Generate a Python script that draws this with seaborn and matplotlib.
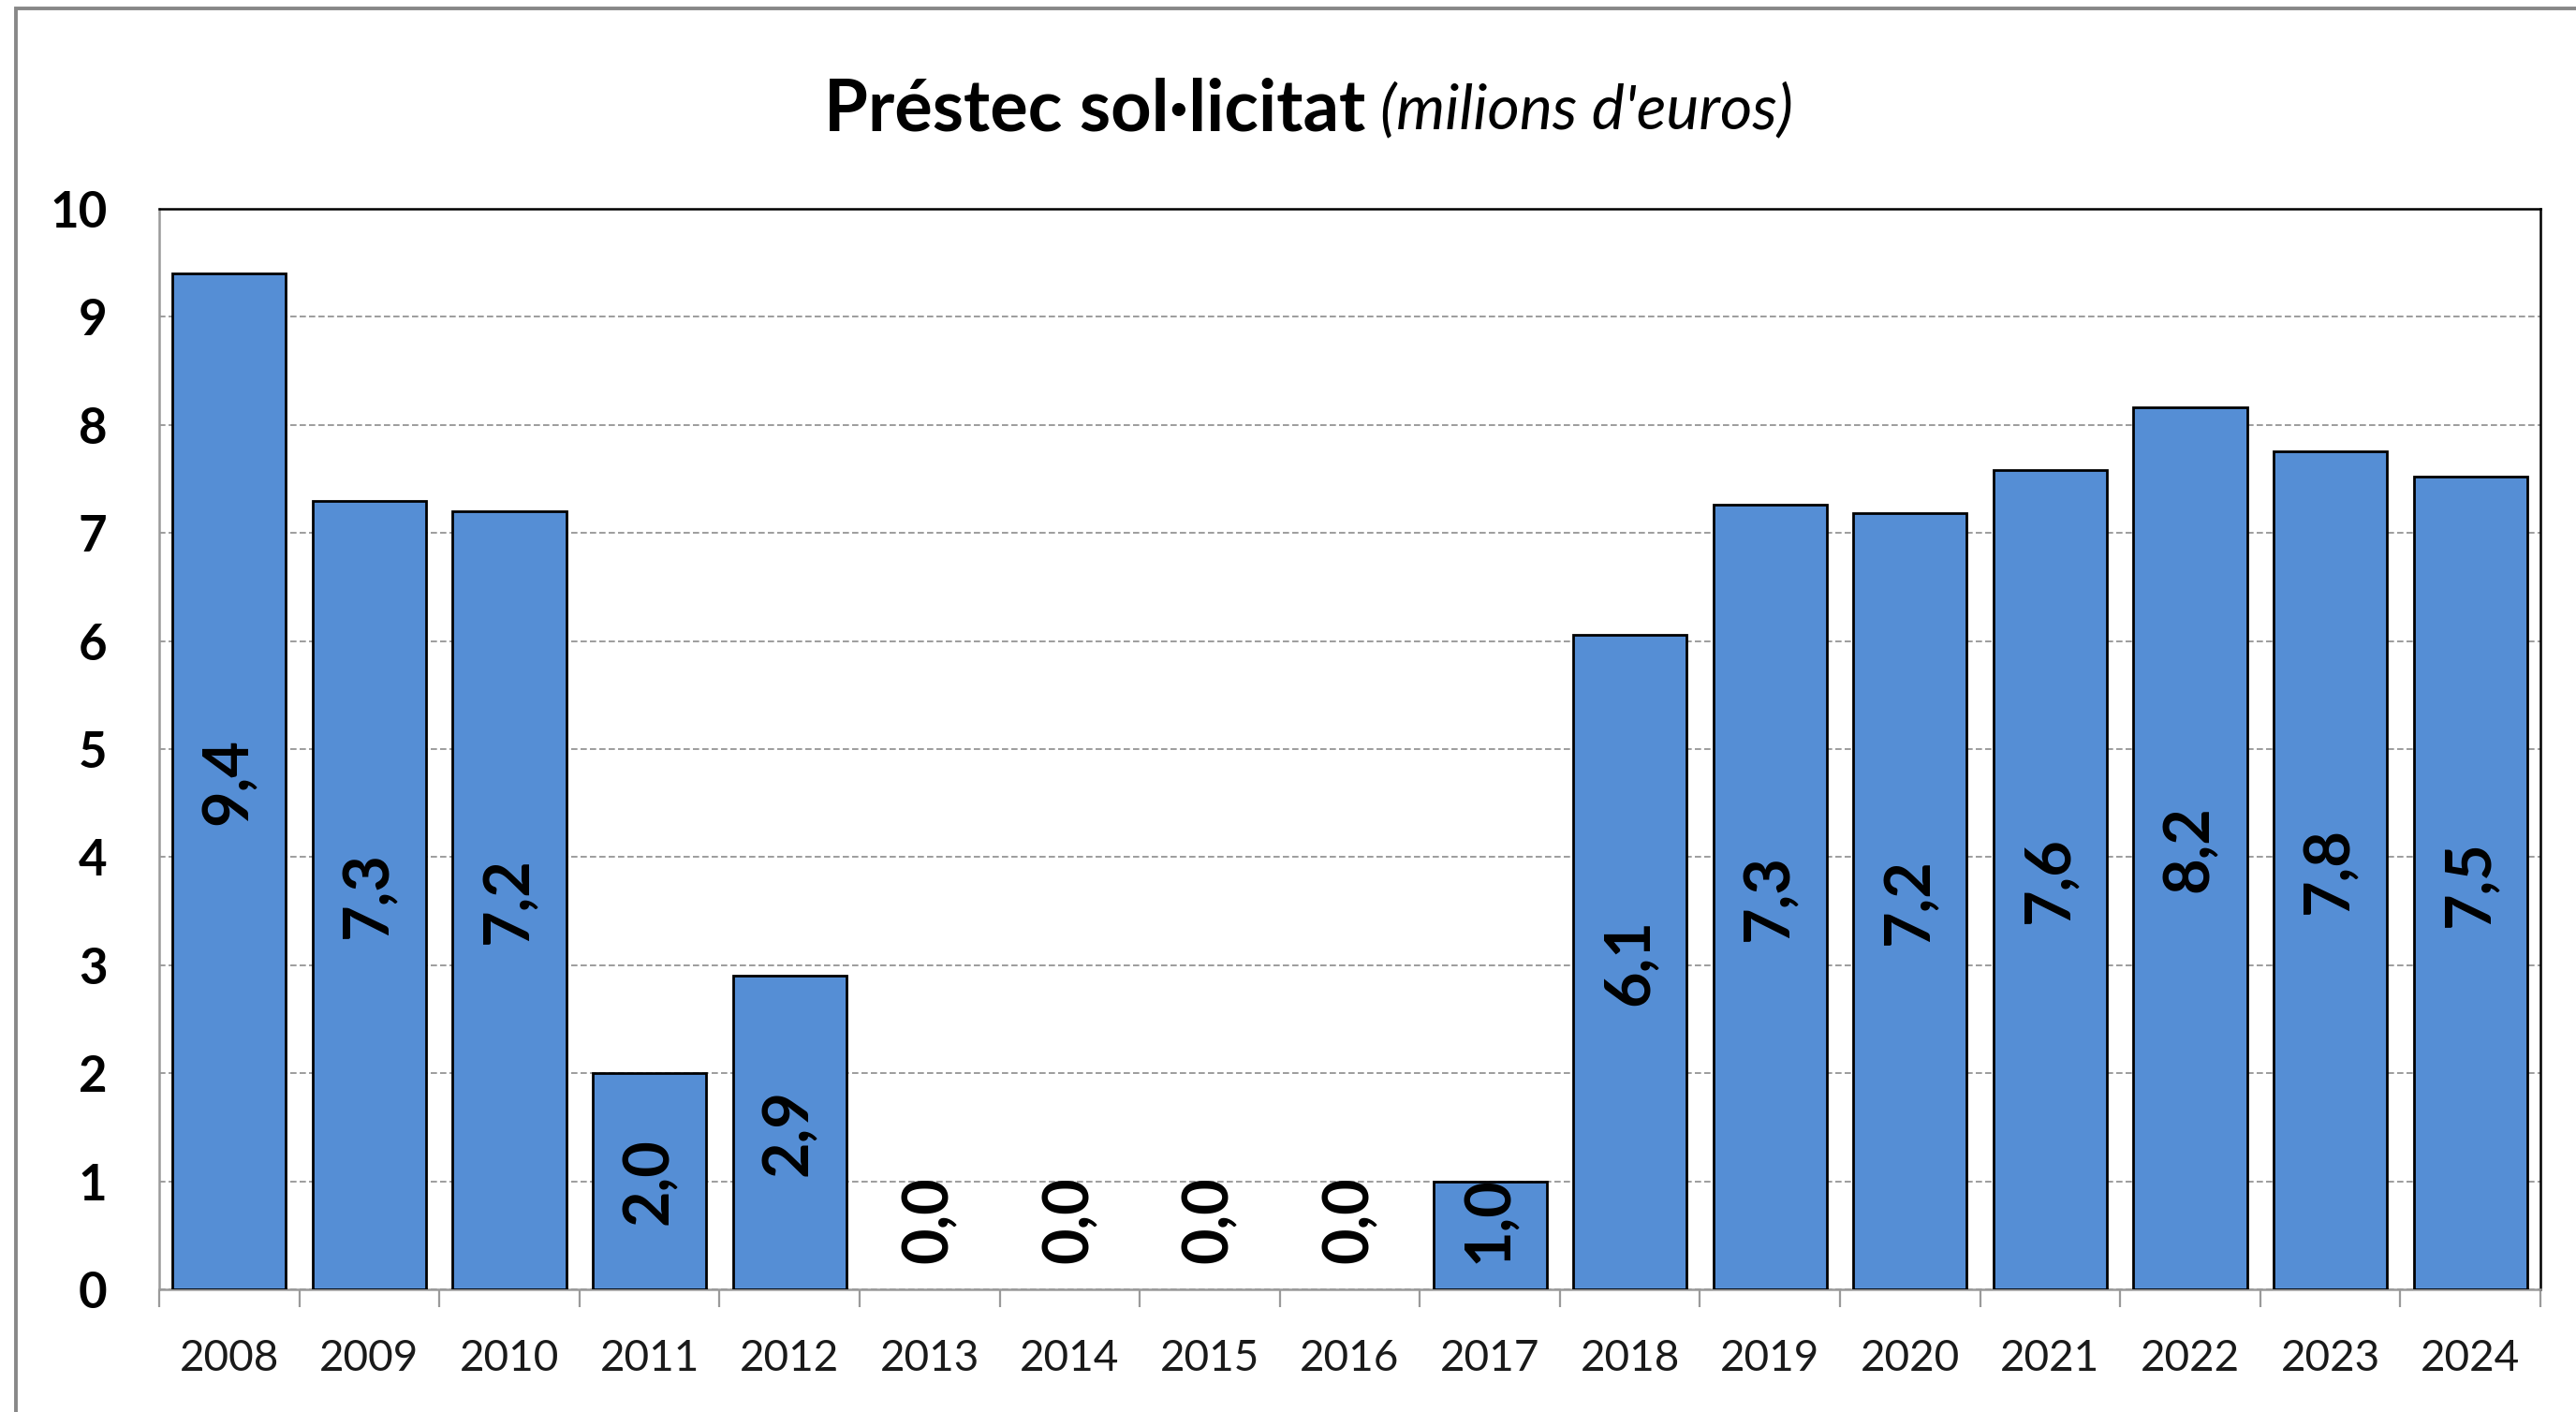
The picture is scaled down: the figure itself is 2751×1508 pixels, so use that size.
"""
Préstec sol·licitat (milions d'euros), bar chart per year.
"""

import matplotlib

matplotlib.use('Agg')

import matplotlib.pyplot as plt
import matplotlib.ticker as mticker
import numpy as np
import seaborn as sns
from matplotlib.patches import Rectangle


YEARS = ['2008', '2009', '2010', '2011', '2012', '2013', '2014', '2015', '2016',
         '2017', '2018', '2019', '2020', '2021', '2022', '2023', '2024']
LOANS = [9.4, 7.3, 7.2, 2.0, 2.9, 0.0, 0.0, 0.0, 0.0,
         1.0, 6.06, 7.26, 7.18, 7.58, 8.16, 7.76, 7.52]

Y_TICKS = np.arange(0, 11, 1)

TITLE_BOLD = 'Préstec sol·licitat'
TITLE_ITALIC = "(milions d'euros)"

BAR_COLOR = '#558ED5'
GRID_COLOR = '#8C8C8C'
AXIS_GREY = '#9A9A9A'

FONT = ['Lato', 'DejaVu Sans']
DPI = 200
FIGSIZE = (2751 / DPI, 1508 / DPI)


def main() -> None:
    sns.set_theme(style='white')
    plt.rcParams['font.family'] = FONT
    plt.rcParams.update({
        'text.color': 'black',
        'xtick.labelcolor': '#1A1A1A',
        'ytick.labelcolor': 'black',
    })

    fig = plt.figure(figsize=FIGSIZE, dpi=DPI)
    fig.patch.set_facecolor('white')
    ax = fig.add_axes([0.0618, 0.0869, 0.9862 - 0.0618, 0.8521 - 0.0869])

    sns.barplot(
        x=YEARS,
        y=LOANS,
        color=BAR_COLOR,
        saturation=1.0,
        edgecolor='black',
        linewidth=1.0,
        width=0.81,
        ax=ax,
        zorder=3,
    )
    # empty years show no bar outline at all
    for patch in ax.patches:
        if patch.get_height() == 0:
            patch.set_linewidth(0)

    # value labels, rotated, centred in the bar (kept off the baseline)
    for i, v in enumerate(LOANS):
        ax.text(
            i, max(v / 2, 0.64), f'{v:.1f}'.replace('.', ','),
            rotation=90, ha='center', va='center',
            fontsize=24, fontweight='bold', color='black', zorder=4,
        )

    ax.set_xlim(-0.5, len(YEARS) - 0.5)
    ax.set_ylim(0, 10)
    ax.yaxis.set_major_locator(mticker.FixedLocator(Y_TICKS))
    ax.set_yticklabels([str(t) for t in Y_TICKS], fontsize=19, fontweight='bold')
    ax.tick_params(axis='y', length=0, pad=20, labelcolor='black')

    ax.xaxis.set_minor_locator(mticker.FixedLocator(np.arange(-0.5, len(YEARS), 1)))
    ax.tick_params(axis='x', which='major', length=0, pad=19, labelsize=16.5,
                   labelcolor='#1A1A1A')
    ax.tick_params(axis='x', which='minor', length=7, width=0.8,
                   color=AXIS_GREY, direction='out', bottom=True)

    ax.yaxis.grid(True, color=GRID_COLOR, linestyle=(0, (4, 2)), linewidth=0.6)
    ax.xaxis.grid(False)
    ax.set_axisbelow(True)

    for side in ('left', 'bottom'):
        ax.spines[side].set_color(AXIS_GREY)
        ax.spines[side].set_linewidth(0.9)
    for side in ('top', 'right'):
        ax.spines[side].set_color('black')
        ax.spines[side].set_linewidth(0.9)
    ax.set_xlabel('')
    ax.set_ylabel('')

    # outer chart frame (only left and top edges are visible)
    fig.patches.append(Rectangle(
        (0.006, -0.05), 1.2, 0.994 + 0.05, transform=fig.transFigure,
        fill=False, edgecolor='#888888', linewidth=1.4, zorder=0,
    ))

    # title: bold part followed by italic part, centred as one line
    t1 = fig.text(0, 0.922, TITLE_BOLD, fontsize=27.3, fontweight='bold',
                  ha='left', va='center', color='black')
    t2 = fig.text(0, 0.922, TITLE_ITALIC, fontsize=23.8, fontstyle='italic',
                  ha='left', va='center', color='black')
    fig.canvas.draw()
    w1 = t1.get_window_extent().width / fig.bbox.width
    w2 = t2.get_window_extent().width / fig.bbox.width
    gap = 0.006
    x0 = 0.508 - (w1 + gap + w2) / 2
    t1.set_x(x0)
    t2.set_x(x0 + w1 + gap)

    fig.savefig('out.png', dpi=DPI, facecolor='white')


if __name__ == '__main__':
    main()
